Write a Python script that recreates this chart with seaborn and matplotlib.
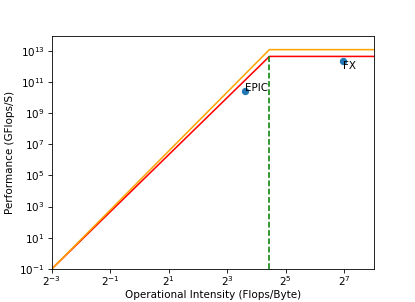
import numpy as np
import seaborn as sns
import matplotlib
matplotlib.use("Agg")
import matplotlib.pyplot as plt
from matplotlib.ticker import NullLocator

# Roofline: intensidade (Flops/Byte) e desempenho (GFlops/S)
roof_x = [0.125, 21.7, 256]
roof_orange = [0.1, 1.2e13, 1.2e13]
roof_red = [0.1, 4.4e12, 4.4e12]
knee_x = 21.7

# Aplicações medidas
apps = ["EPIC", "FX"]
apps_x = [12.1, 123]
apps_y = [2.6e10, 2.2e12]

# figura "grande" gravada a 75 dpi -> 415x302
fig, ax = plt.subplots(figsize=(415 / 75, 302 / 75), dpi=75)

sns.lineplot(x=roof_x, y=roof_red, color='red', ax=ax)
sns.lineplot(x=roof_x, y=roof_orange, color='orange', ax=ax)
ax.plot([knee_x, knee_x], [0.1, roof_red[1]], color='green', linestyle='--')
ax.scatter(apps_x, apps_y, color='C0', zorder=3)
ax.text(apps_x[0], apps_y[0], apps[0])
ax.text(apps_x[1], apps_y[1], apps[1], va='top')

ax.set_xscale('log', base=2)
ax.set_yscale('log')
ax.set_xlim(2**-3, 2**8)
ax.set_ylim(0.1, 10**13.94)
ax.set_xticks([2.0**k for k in range(-3, 8, 2)])
ax.set_yticks([10.0**k for k in range(-1, 14, 2)])
ax.xaxis.set_minor_locator(NullLocator())
ax.yaxis.set_minor_locator(NullLocator())
ax.tick_params(axis='x', pad=2)

ax.set_xlabel('Operational Intensity (Flops/Byte)', labelpad=2)
ax.set_ylabel('Performance (GFlops/S)')

plt.savefig("out.png", dpi=75)
